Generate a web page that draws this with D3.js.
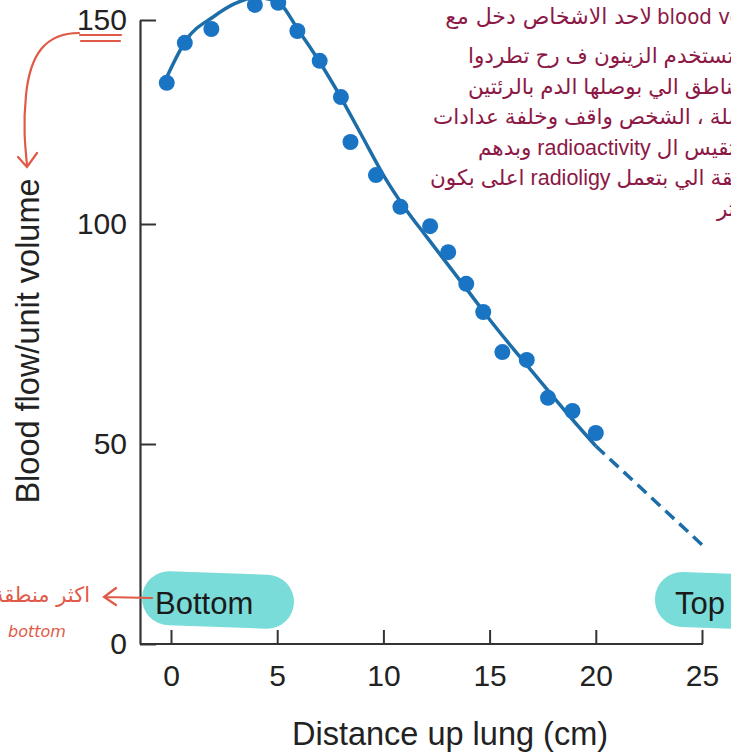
<!DOCTYPE html>
<html>
<head>
<meta charset="utf-8">
<script src="https://cdnjs.cloudflare.com/ajax/libs/d3/7.8.5/d3.min.js"></script>
<style>
  body { margin: 0; background: #fff; }
  svg { display: block; }
  .tick text { font-family: "Liberation Sans", Arial, sans-serif; font-size: 30px; fill: #222; }
</style>
</head>
<body>
<svg id="chart"></svg>
<script>
// measured points (distance up lung in cm, blood flow per unit volume)
var distance = [-0.2, 0.65, 1.9, 3.95, 5.05, 5.95, 7.0, 8.0, 8.45, 9.65, 10.8, 12.2, 13.05, 13.9, 14.7, 15.6, 16.75, 17.75, 18.9, 20.0];
var flow = [134.6, 144.4, 147.8, 153.7, 154.2, 147.3, 140.0, 131.1, 120.1, 112.0, 104.2, 99.5, 93.6, 86.4, 80.0, 70.9, 69.1, 60.5, 57.5, 52.5];

// fitted curve (solid) and its extrapolation (dashed)
var fitX = [-0.2, 0.7, 2, 3, 4, 5, 6, 7, 8, 9, 10, 11, 12, 13, 14, 15, 16, 17, 18, 19, 20];
var fitY = [136, 145, 150.8, 154, 155.5, 154.5, 147.5, 139.7, 131, 121.5, 112, 104, 97.3, 91, 84.7, 78.3, 72.3, 66.5, 60.7, 55, 49.5];
var dashX = [20, 25];
var dashY = [49.5, 24.8];

var xTicks = [0, 5, 10, 15, 20, 25];
var yTicks = [0, 50, 100, 150];

// handwritten notes (top right, they run off the page edge)
var noteHead = "لاحد الاشخاص دخل مع";
var noteHeadLatin = "blood vessels";
var noteLines = [
  "لما تستخدم الزينون ف رح تطردوا",
  "المناطق الي بوصلها الدم بالرئتين",
  "بسلة ، الشخص واقف وخلفة عدادات",
  "بتقيس ال radioactivity وبدهم",
  "المنطقة الي بتعمل radioligy اعلى بكون",
  "أكثر"
];
var noteLeft = [468, 468, 433, 478, 430, 717];

var width = 731, height = 753;
var svg = d3.select("#chart").attr("width", width).attr("height", height);

var x = d3.scaleLinear().domain([0, 25]).range([171, 702]);
var y = d3.scaleLinear().domain([0, 50, 100, 150]).range([644, 444, 224, 20]);
var axisX0 = 140;

var teal = "#7adcd8";
var blue = "#1a74c4";
var lineBlue = "#1d6ea8";
var red = "#e05a47";
var plum = "#8c1846";

// highlight pills behind Bottom / Top
svg.append("rect")
  .attr("x", 142).attr("y", 573)
  .attr("width", 152).attr("height", 54)
  .attr("rx", 27)
  .attr("fill", teal)
  .attr("transform", "rotate(2 218 600)");
svg.append("rect")
  .attr("x", x(25) - 47).attr("y", 573)
  .attr("width", 120).attr("height", 55)
  .attr("rx", 27)
  .attr("fill", teal)
  .attr("transform", "rotate(2 " + (x(25) + 10) + " 600)");

// axes
var xAxis = d3.axisBottom(x).tickValues(xTicks).tickSize(-14).tickSizeOuter(0).tickPadding(21);
var gx = svg.append("g").attr("transform", "translate(0," + y(0) + ")").call(xAxis);
gx.select(".domain").remove();
gx.selectAll(".tick line").attr("stroke", "#333").attr("stroke-width", 2);
gx.append("line")
  .attr("x1", axisX0).attr("x2", x(25) + 1)
  .attr("stroke", "#333").attr("stroke-width", 2.2);

var yAxis = d3.axisLeft(y).tickValues(yTicks).tickSize(-16).tickSizeOuter(0).tickPadding(12);
var gy = svg.append("g").attr("transform", "translate(" + axisX0 + ",0)").call(yAxis);
gy.select(".domain").attr("stroke", "#333").attr("stroke-width", 2.2);
gy.selectAll(".tick line").attr("stroke", "#333").attr("stroke-width", 2);
gy.selectAll(".tick text").attr("x", -13);

// axis titles
svg.append("text")
  .attr("x", 450).attr("y", 745)
  .attr("text-anchor", "middle")
  .style("font-family", "Liberation Sans, Arial, sans-serif")
  .style("font-size", "32.5px")
  .style("fill", "#222")
  .text("Distance up lung (cm)");

svg.append("text")
  .attr("transform", "translate(39,341) rotate(-90)")
  .attr("text-anchor", "middle")
  .style("font-family", "Liberation Sans, Arial, sans-serif")
  .style("font-size", "32.5px")
  .style("fill", "#222")
  .text("Blood flow/unit volume");

// fitted curve
var line = d3.line()
  .x(function(d) { return x(d[0]); })
  .y(function(d) { return y(d[1]); })
  .curve(d3.curveMonotoneX);

svg.append("path")
  .datum(d3.zip(fitX, fitY))
  .attr("d", line)
  .attr("fill", "none")
  .attr("stroke", lineBlue)
  .attr("stroke-width", 3.5);

svg.append("path")
  .datum(d3.zip(dashX, dashY))
  .attr("d", line)
  .attr("fill", "none")
  .attr("stroke", lineBlue)
  .attr("stroke-width", 3.5)
  .attr("stroke-dasharray", "12,7");

// data points
svg.selectAll("circle.pt")
  .data(d3.zip(distance, flow))
  .enter().append("circle")
  .attr("class", "pt")
  .attr("cx", function(d) { return x(d[0]); })
  .attr("cy", function(d) { return y(d[1]); })
  .attr("r", 8)
  .attr("fill", blue);

// Bottom / Top labels
svg.append("text")
  .attr("x", 155).attr("y", 614)
  .style("font-family", "Liberation Sans, Arial, sans-serif")
  .style("font-size", "31px")
  .style("fill", "#1a1a1a")
  .text("Bottom");
svg.append("text")
  .attr("x", x(25) - 27).attr("y", 614)
  .style("font-family", "Liberation Sans, Arial, sans-serif")
  .style("font-size", "31px")
  .style("fill", "#1a1a1a")
  .text("Top");

// red handwriting
var notes = svg.append("g").attr("fill", "none").attr("stroke", red).attr("stroke-width", 2.2).attr("stroke-linecap", "round");
notes.append("path").attr("d", "M80,35 L121,35 M81,41 L120,41");
notes.append("path").attr("d", "M79,33 C45,33 30,55 26,95 C23,125 25,145 27,165");
notes.append("path").attr("d", "M18,157 L27,167 L37,153");
notes.append("path").attr("d", "M152,598 L104,597 M116,588 L104,597 L116,605");

svg.append("text")
  .attr("x", 90).attr("y", 602)
  .attr("text-anchor", "end")
  .style("font-family", "DejaVu Sans, sans-serif")
  .style("font-size", "21px")
  .style("fill", red)
  .text("اكثر منطقة");
svg.append("text")
  .attr("x", 8).attr("y", 637)
  .style("font-family", "DejaVu Sans, sans-serif")
  .style("font-style", "italic")
  .style("font-size", "16px")
  .style("fill", red)
  .text("bottom");

// first note line: arabic part + english term running off the edge
svg.append("text")
  .attr("x", 652).attr("y", 24)
  .attr("direction", "rtl")
  .attr("text-anchor", "start")
  .style("font-family", "DejaVu Sans, sans-serif")
  .style("font-size", "22px")
  .style("fill", plum)
  .text(noteHead);
svg.append("text")
  .attr("x", 657).attr("y", 24)
  .style("font-family", "DejaVu Sans Condensed, DejaVu Sans, sans-serif")
  .style("font-stretch", "condensed")
  .style("font-size", "22px")
  .style("fill", plum)
  .text(noteHeadLatin);

var noteText = svg.selectAll("text.note")
  .data(noteLines)
  .enter().append("text")
  .attr("class", "note")
  .attr("y", function(d, i) { return 63 + i * 30.5; })
  .attr("direction", "rtl")
  .attr("text-anchor", "start")
  .style("font-family", "Liberation Sans, DejaVu Sans, sans-serif")
  .style("font-size", "21.5px")
  .style("fill", plum)
  .text(function(d) { return d; });

// right-align each line so its left end sits where the note starts
noteText.attr("x", function(d, i) { return noteLeft[i] + this.getComputedTextLength(); });
</script>
</body>
</html>
